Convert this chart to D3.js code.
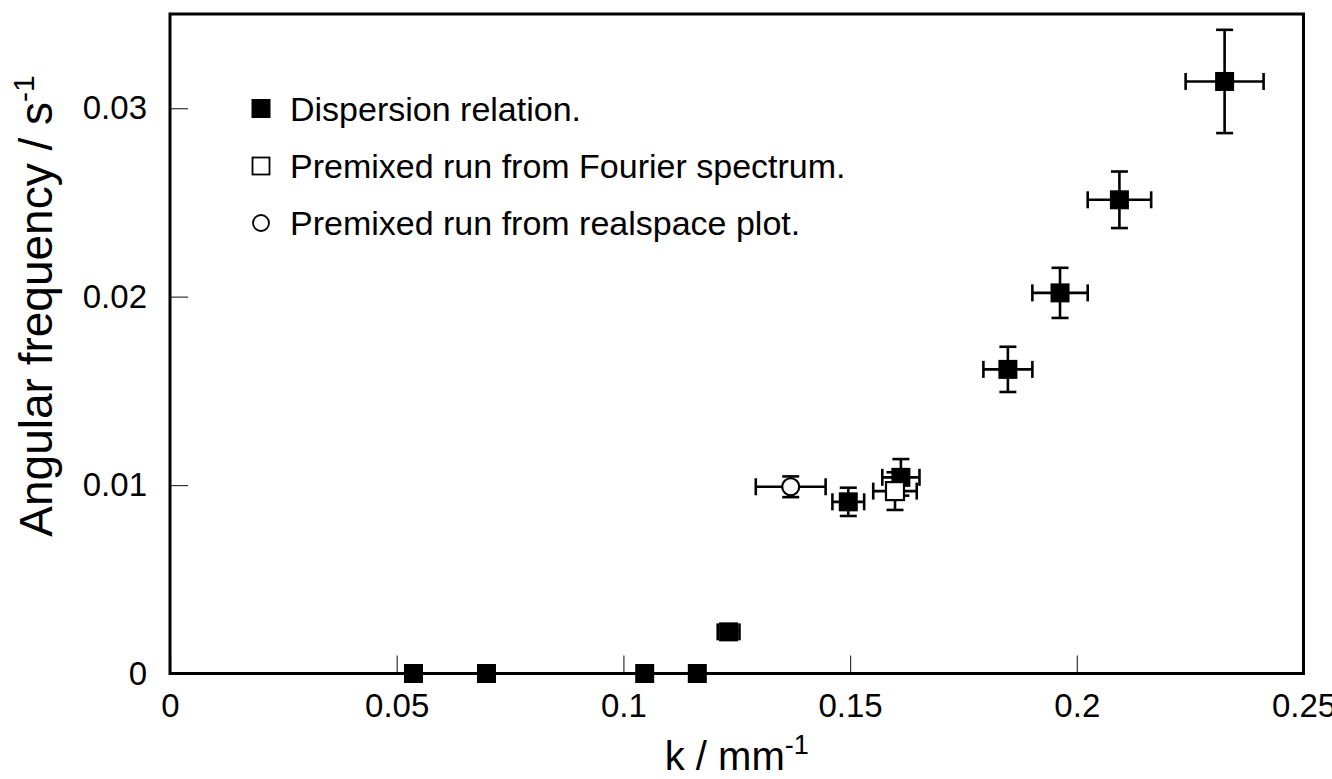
<!DOCTYPE html>
<html>
<head>
<meta charset="utf-8">
<script src="https://cdn.jsdelivr.net/npm/d3@7"></script>
<style>
  body { margin: 0; background: #fff; }
  svg { display: block; font-family: 'Liberation Sans', Arial, Helvetica, sans-serif; }
  .tick line { stroke: #333; stroke-width: 1.2; }
  .tick text { font-size: 33px; fill: #000; }
</style>
</head>
<body>
<svg id="chart" width="1332" height="779"></svg>
<script>
// dispersion relation (filled squares)
const dispK    = [0.0537, 0.0698, 0.1047, 0.1163, 0.1232, 0.1496, 0.1612, 0.1848, 0.1963, 0.2094, 0.2326]
const dispW    = [0, 0, 0, 0, 0.00221, 0.00911, 0.01041, 0.01614, 0.0202, 0.02514, 0.03142]
const dispKErr = [0, 0, 0, 0, 0.0024, 0.0035, 0.0041, 0.0054, 0.0061, 0.0070, 0.0086]
const dispWErr = [0, 0, 0, 0, 0, 0.00075, 0.00097, 0.0012, 0.00133, 0.0015, 0.00274]

// premixed run, Fourier spectrum (open square)
const fourK    = [0.1599]
const fourW    = [0.00968]
const fourKErr = [0.0048]
const fourWErr = [0.001]

// premixed run, realspace plot (open circle)
const realK    = [0.1369]
const realW    = [0.00991]
const realKErr = [0.0077]
const realWErr = [0.00055]

const xTicks = [0, 0.05, 0.1, 0.15, 0.2, 0.25]
const yTicks = [0, 0.01, 0.02, 0.03]
const legendLabels = ['Dispersion relation.', 'Premixed run from Fourier spectrum.', 'Premixed run from realspace plot.']

const margin = {left: 170, top: 14}
const width = 1133.5, height = 659.5

const svg = d3.select('#chart')
const g = svg.append('g').attr('transform', `translate(${margin.left},${margin.top})`)

const x = d3.scaleLinear().domain([0, 0.25]).range([0, width])
const y = d3.scaleLinear().domain([0, 0.035]).range([height, 0])

// axes, ticks pointing inward
g.append('g')
  .attr('transform', `translate(0,${height})`)
  .call(d3.axisBottom(x).tickValues(xTicks).tickFormat(d => String(d))
    .tickSizeInner(-18).tickSizeOuter(0).tickPadding(20))
  .call(a => a.select('.domain').remove())

g.append('g')
  .call(d3.axisLeft(y).tickValues(yTicks).tickFormat(d => String(d))
    .tickSizeInner(-18).tickSizeOuter(0).tickPadding(23))
  .call(a => a.select('.domain').remove())

// frame
g.append('rect')
  .attr('width', width).attr('height', height)
  .attr('fill', 'none').attr('stroke', '#000').attr('stroke-width', 3)

const zip = (k, w, ke, we) => k.map((d, i) => ({k: d, w: w[i], ke: ke[i], we: we[i]}))
const series = [
  {data: zip(dispK, dispW, dispKErr, dispWErr), shape: 'filled'},
  {data: zip(fourK, fourW, fourKErr, fourWErr), shape: 'open'},
  {data: zip(realK, realW, realKErr, realWErr), shape: 'circle'}
]

const cap = 8.5, sq = 19

const drawMarker = (sel, shape, small) => {
  const lw = small ? 1.8 : 2.2
  if (shape === 'circle') {
    sel.append('circle').attr('r', small ? 8 : 8.5)
      .attr('fill', '#fff').attr('stroke', '#000').attr('stroke-width', lw)
  } else if (shape === 'open') {
    const h = small ? 8.5 : 9
    sel.append('rect').attr('x', -h).attr('y', -h).attr('width', 2 * h).attr('height', 2 * h)
      .attr('fill', '#fff').attr('stroke', '#000').attr('stroke-width', lw)
  } else {
    sel.append('rect').attr('x', -sq / 2).attr('y', -sq / 2).attr('width', sq).attr('height', sq)
      .attr('fill', '#000')
  }
}

series.forEach(s => {
  const pts = g.append('g').selectAll('g').data(s.data).enter().append('g')
    .attr('transform', d => `translate(${x(d.k)},${y(d.w)})`)

  // error bars
  pts.each(function(d) {
    const p = d3.select(this).append('g').attr('stroke', '#000').attr('stroke-width', 2.6)
    if (d.ke > 0) {
      const dx = x(d.k + d.ke) - x(d.k)
      p.append('line').attr('x1', -dx).attr('x2', dx)
      p.append('line').attr('x1', -dx).attr('x2', -dx).attr('y1', -cap).attr('y2', cap)
      p.append('line').attr('x1', dx).attr('x2', dx).attr('y1', -cap).attr('y2', cap)
    }
    if (d.we > 0) {
      const dy = y(d.w) - y(d.w + d.we)
      p.append('line').attr('y1', -dy).attr('y2', dy)
      p.append('line').attr('y1', -dy).attr('y2', -dy).attr('x1', -cap).attr('x2', cap)
      p.append('line').attr('y1', dy).attr('y2', dy).attr('x1', -cap).attr('x2', cap)
    }
  })
  drawMarker(pts, s.shape, false)
})

// legend
const legendRows = [108.5, 166, 223]
const legend = svg.append('g')
legendLabels.forEach((label, i) => {
  const row = legend.append('g').attr('transform', `translate(261,${legendRows[i]})`)
  drawMarker(row, series[i].shape, true)
  row.append('text').attr('x', 29).attr('y', 12)
    .attr('font-size', 34).text(label)
})

// axis titles
const xt = svg.append('text')
  .attr('x', margin.left + width / 2).attr('y', 770)
  .attr('text-anchor', 'middle').attr('font-size', 40)
xt.append('tspan').text('k / mm')
xt.append('tspan').attr('font-size', 27).attr('dy', -16).text('-1')

const yt = svg.append('text')
  .attr('transform', `translate(52,${306}) rotate(-90)`)
  .attr('text-anchor', 'middle').attr('font-size', 46)
yt.append('tspan').text('Angular frequency / s')
yt.append('tspan').attr('font-size', 30).attr('dy', -18).text('-1')
</script>
</body>
</html>
